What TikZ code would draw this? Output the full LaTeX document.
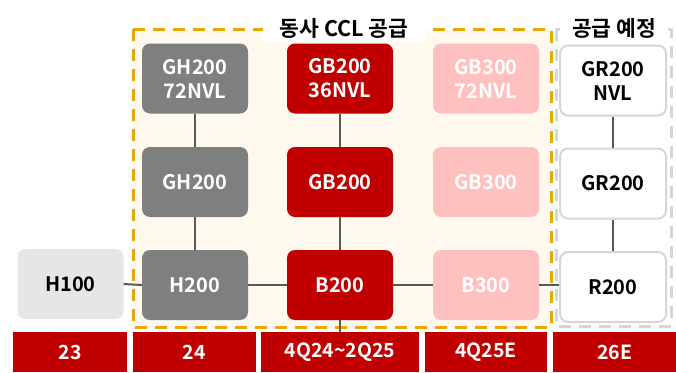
\documentclass[tikz,border=0pt]{standalone}
\usepackage{fontspec}
\setmainfont{Noto Sans CJK KR}[BoldFont={* Bold}]
\definecolor{cred}{HTML}{C00000}
\definecolor{cgray}{HTML}{7F7F7F}
\definecolor{cpink}{HTML}{FFC0C0}
\definecolor{clight}{HTML}{E6E6E6}
\definecolor{cborder}{HTML}{D6D6D6}
\definecolor{cline}{HTML}{595959}
\definecolor{corange}{HTML}{E8A800}
\definecolor{ccream}{HTML}{FFF9F0}
\tikzset{
  chip/.style={rounded corners=8pt, minimum width=106pt, minimum height=70pt, inner sep=0pt, align=center, font=\fontsize{20}{24}\selectfont\bfseries},
  grayc/.style={chip, fill=cgray, text=white},
  redc/.style={chip, fill=cred, text=white},
  pinkc/.style={chip, fill=cpink, text=white},
  lightc/.style={chip, fill=clight, text=black},
  whitec/.style={chip, fill=white, draw=cborder, line width=2pt, text=black},
  barc/.style={rectangle, fill=cred, text=white, minimum height=40pt, inner sep=0pt, font=\fontsize{19.5}{22}\selectfont\bfseries},
  conn/.style={draw=cline, line width=2pt},
  ttl/.style={fill=white, font=\fontsize{21.5}{24}\selectfont\bfseries, inner sep=3pt}
}
\begin{document}
\begin{tikzpicture}[x=1pt,y=-1pt]
\useasboundingbox (0,0) rectangle (676,372);
% group boxes
\draw[corange, line width=3pt, dash pattern=on 12pt off 8pt, fill=ccream] (133,29) rectangle (551,327);
\draw[cborder, line width=3pt, dash pattern=on 12pt off 8pt] (556,29) rectangle (671,326);
\node[ttl, minimum width=162pt, minimum height=28pt] (t1) at (344,28) {동사 CCL 공급};
\node[ttl, minimum width=100pt, minimum height=28pt] (t2) at (614,28) {공급 예정};
% nodes
\node[lightc] (h100) at (70.5,284) {H100};
\node[grayc] (gh72) at (195,78.5) {GH200\\72NVL};
\node[grayc] (gh) at (195,182) {GH200};
\node[grayc] (h200) at (195,285) {H200};
\node[redc] (gb36) at (340,78.5) {GB200\\36NVL};
\node[redc] (gb) at (340,182) {GB200};
\node[redc] (b200) at (340,285) {B200};
\node[pinkc] (gb372) at (486,78.5) {GB300\\72NVL};
\node[pinkc] (gb3) at (486,182) {GB300};
\node[pinkc] (b300) at (486,285) {B300};
\node[whitec] (grnvl) at (613,80.5) {GR200\\NVL};
\node[whitec] (gr) at (613,183.5) {GR200};
\node[whitec] (r200) at (613,287) {R200};
% bar
\node[barc, minimum width=114pt] (y23) at (70,352) {23};
\node[barc, minimum width=123pt] (y24) at (194.5,352) {24};
\node[barc, minimum width=158pt] (y4q) at (340,352) {4Q24\textasciitilde 2Q25};
\node[barc, minimum width=122pt] (y4e) at (486,352) {4Q25E};
\node[barc, minimum width=123pt] (y26) at (614.5,352) {26E};
% connectors
\draw[conn] (h100.east) -- (h200.west);
\draw[conn] (h200.east) -- (b200.west);
\draw[conn] (b200.east) -- (b300.west);
\draw[conn] (b300.east) -- (r200.west |- b300.east);
\draw[conn] (gh72.south) -- (gh.north);
\draw[conn] (gh.south) -- (h200.north);
\draw[conn] (gb36.south) -- (gb.north);
\draw[conn] (gb.south) -- (b200.north);
\draw[conn] (b200.south) -- (y4q.north);
\draw[conn] (grnvl.south) -- (gr.north);
\draw[conn] (gr.south) -- (r200.north);
\end{tikzpicture}
\end{document}
